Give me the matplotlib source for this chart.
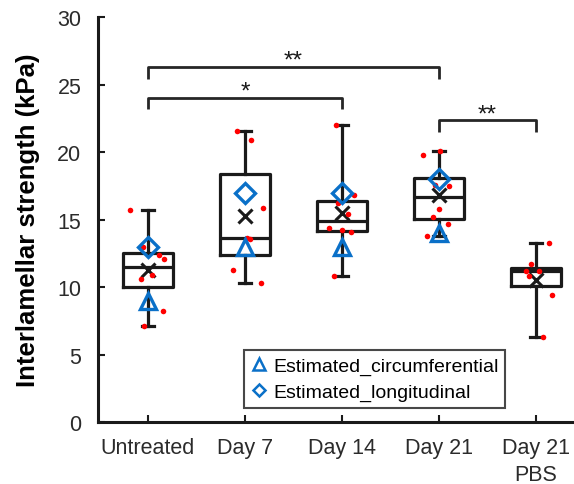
import matplotlib
matplotlib.use("Agg")
import matplotlib.pyplot as plt
from matplotlib.lines import Line2D
import numpy as np

plt.rcParams['font.family'] = ['Liberation Sans', 'DejaVu Sans']

# Groups and measured interlamellar strength (kPa)
groups = ["Untreated", "Day 7", "Day 14", "Day 21", "Day 21\nPBS"]
untreated = [15.7, 13.0, 12.4, 12.1, 10.9, 10.6, 8.2, 7.1]
day7 = [21.55, 20.9, 15.9, 13.55, 13.65, 11.25, 10.3]
day14 = [22.0, 16.8, 16.2, 15.4, 14.4, 14.2, 14.1, 10.8]
day21 = [20.1, 19.8, 17.55, 17.5, 15.8, 15.2, 14.7, 13.8]
day21_pbs = [13.25, 11.7, 11.2, 11.2, 10.8, 9.4, 6.3]
samples = [untreated, day7, day14, day21, day21_pbs]

# Model estimates (first four groups only)
estimated_circumferential = [9, 13, 13, 14]
estimated_longitudinal = [13, 17, 17, 18]

# Significance comparisons: (group a, group b, bar height, label)
comparisons = [(0, 3, 26.3, "**"), (0, 2, 24.05, "*"), (3, 4, 22.35, "**")]

# horizontal scatter of individual points (category units)
jitter = [
    [-0.19, -0.05, 0.11, 0.16, 0.04, -0.07, 0.15, -0.04],
    [-0.08, 0.06, 0.19, 0.05, 0.02, -0.12, 0.16],
    [-0.06, 0.12, -0.04, 0.06, -0.13, 0.0, 0.09, -0.08],
    [0.01, -0.16, -0.04, 0.10, 0.0, -0.06, 0.09, -0.12],
    [0.13, -0.05, -0.10, 0.03, -0.07, 0.17, 0.07],
]

W, H = 574, 485
fig = plt.figure(figsize=(W / 100, H / 100), dpi=100)
ax = fig.add_axes([98 / W, (H - 423) / H, (W - 98) / W, (423 - 18.3) / H])

pos = np.arange(1, len(groups) + 1)
lw = 2.3
ink = '#1a1a1a'
ax.boxplot(samples, positions=pos, widths=0.52, whis=(0, 100),
           showmeans=True, showfliers=False, patch_artist=False,
           boxprops=dict(color=ink, linewidth=lw),
           medianprops=dict(color=ink, linewidth=lw),
           whiskerprops=dict(color=ink, linewidth=lw),
           capprops=dict(color=ink, linewidth=lw),
           capwidths=0.13,
           meanprops=dict(marker='x', markeredgecolor=ink,
                          markersize=10, markeredgewidth=2.2),
           zorder=2)

for i, (vals, jit) in enumerate(zip(samples, jitter)):
    ax.scatter(pos[i] + np.array(jit), vals, s=16, color='#ff0000',
               linewidths=0, zorder=3)

blue = '#0a70c8'
n_est = len(estimated_circumferential)
ax.plot(pos[:n_est], estimated_circumferential, linestyle='none', marker='^',
        markersize=11, markerfacecolor='none', markeredgecolor=blue,
        markeredgewidth=2.4, zorder=4)
ax.plot(pos[:n_est], estimated_longitudinal, linestyle='none', marker='D',
        markersize=10, markerfacecolor='none', markeredgecolor=blue,
        markeredgewidth=2.4, zorder=4)

# significance brackets
drop = 0.88
for a, b, yv, lab in comparisons:
    ax.plot([pos[a], pos[a], pos[b], pos[b]], [yv - drop, yv, yv, yv - drop],
            color='#262626', linewidth=2.0, solid_capstyle='butt', zorder=2)
    ax.text((pos[a] + pos[b]) / 2, yv - 0.35, lab, ha='center', va='bottom',
            fontsize=17.5, color=ink)

ax.set_ylim(0, 30)
ax.set_xlim(1 - 50 / 97, 1 + (W - 148) / 97)
ax.set_yticks(np.arange(0, 31, 5))
ax.set_xticks(pos)
ax.set_xticklabels(groups, linespacing=1.35)
ax.tick_params(axis='both', direction='in', length=5, width=1.5,
               labelsize=15.5, colors=ink, labelcolor='#2b2b2b')
ax.tick_params(axis='y', pad=12)
ax.tick_params(axis='x', pad=11)
for side in ('top', 'right'):
    ax.spines[side].set_visible(False)
for side in ('left', 'bottom'):
    ax.spines[side].set_linewidth(2.2)
    ax.spines[side].set_color(ink)

ax.set_ylabel("Interlamellar strength (kPa)", fontsize=18.5, fontweight='bold')
ax.yaxis.set_label_coords(-(98 - 40) / (W - 98), 0.5)

handles = [
    Line2D([], [], linestyle='none', marker='^', markersize=8,
           markerfacecolor='none', markeredgecolor=blue, markeredgewidth=1.8),
    Line2D([], [], linestyle='none', marker='D', markersize=6.5,
           markerfacecolor='none', markeredgecolor=blue, markeredgewidth=1.8),
]
leg = ax.legend(handles, ["Estimated_circumferential", "Estimated_longitudinal"],
                loc='upper left', bbox_to_anchor=(244 / W, 1 - 351 / H),
                bbox_transform=fig.transFigure, fontsize=14, frameon=True,
                fancybox=False, edgecolor=ink, handlelength=0.8,
                handletextpad=0.35, borderpad=0.35, labelspacing=0.45,
                borderaxespad=0)
leg.get_frame().set_linewidth(1.5)

fig.savefig("out.png", dpi=100)
